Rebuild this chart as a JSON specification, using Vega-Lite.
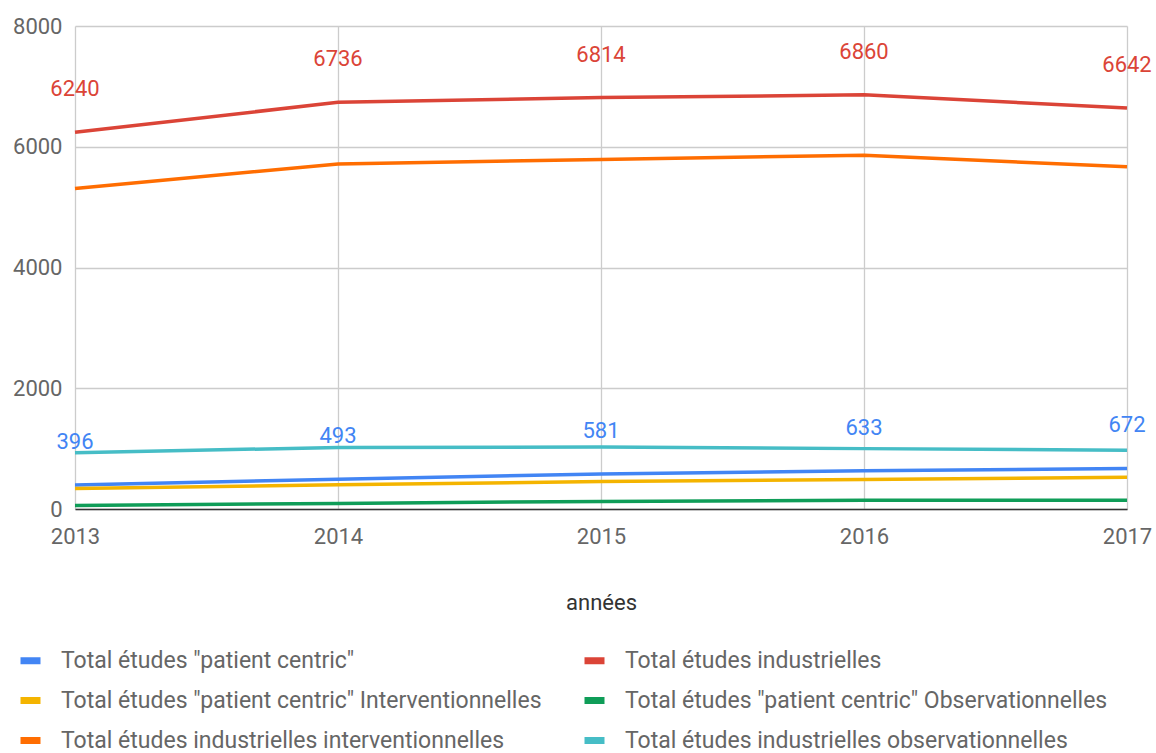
{
  "$schema": "https://vega.github.io/schema/vega-lite/v6.json",
  "width": 1052,
  "height": 483,
  "autosize": {"type": "none"},
  "padding": {"left": 75, "top": 26, "right": 29, "bottom": 244},
  "background": "white",
  "config": {
    "font": "Roboto",
    "view": {"stroke": null},
    "axis": {"labelFont": "Roboto", "titleFont": "Roboto", "gridColor": "#cccccc", "gridWidth": 1.3, "ticks": false, "labelColor": "#666666", "labelFontSize": 22}
  },
  "data": {
    "values": [
      {"year": "2013", "series": "Total études \"patient centric\"", "value": 396},
      {"year": "2014", "series": "Total études \"patient centric\"", "value": 493},
      {"year": "2015", "series": "Total études \"patient centric\"", "value": 581},
      {"year": "2016", "series": "Total études \"patient centric\"", "value": 633},
      {"year": "2017", "series": "Total études \"patient centric\"", "value": 672},
      {"year": "2013", "series": "Total études industrielles", "value": 6240},
      {"year": "2014", "series": "Total études industrielles", "value": 6736},
      {"year": "2015", "series": "Total études industrielles", "value": 6814},
      {"year": "2016", "series": "Total études industrielles", "value": 6860},
      {"year": "2017", "series": "Total études industrielles", "value": 6642},
      {"year": "2013", "series": "Total études \"patient centric\" Interventionnelles", "value": 340},
      {"year": "2014", "series": "Total études \"patient centric\" Interventionnelles", "value": 400},
      {"year": "2015", "series": "Total études \"patient centric\" Interventionnelles", "value": 455},
      {"year": "2016", "series": "Total études \"patient centric\" Interventionnelles", "value": 490},
      {"year": "2017", "series": "Total études \"patient centric\" Interventionnelles", "value": 525},
      {"year": "2013", "series": "Total études \"patient centric\" Observationnelles", "value": 56},
      {"year": "2014", "series": "Total études \"patient centric\" Observationnelles", "value": 93},
      {"year": "2015", "series": "Total études \"patient centric\" Observationnelles", "value": 126},
      {"year": "2016", "series": "Total études \"patient centric\" Observationnelles", "value": 143},
      {"year": "2017", "series": "Total études \"patient centric\" Observationnelles", "value": 147},
      {"year": "2013", "series": "Total études industrielles interventionnelles", "value": 5310},
      {"year": "2014", "series": "Total études industrielles interventionnelles", "value": 5716},
      {"year": "2015", "series": "Total études industrielles interventionnelles", "value": 5789},
      {"year": "2016", "series": "Total études industrielles interventionnelles", "value": 5860},
      {"year": "2017", "series": "Total études industrielles interventionnelles", "value": 5667},
      {"year": "2013", "series": "Total études industrielles observationnelles", "value": 930},
      {"year": "2014", "series": "Total études industrielles observationnelles", "value": 1020},
      {"year": "2015", "series": "Total études industrielles observationnelles", "value": 1025},
      {"year": "2016", "series": "Total études industrielles observationnelles", "value": 1000},
      {"year": "2017", "series": "Total études industrielles observationnelles", "value": 975}
    ]
  },
  "encoding": {
    "x": {
      "field": "year", "type": "ordinal",
      "scale": {"type": "point", "padding": 0},
      "axis": {"title": "années", "labelAngle": 0, "labelPadding": 17, "titlePadding": 45, "titleFontSize": 22, "titleFontWeight": "normal", "titleColor": "#333333", "domainColor": "#333333", "domainWidth": 1.5, "grid": true}
    },
    "y": {
      "field": "value", "type": "quantitative",
      "scale": {"domain": [0, 8000]},
      "axis": {"title": null, "values": [0, 2000, 4000, 6000, 8000], "format": "d", "domain": false, "labelPadding": 13, "grid": true}
    },
    "color": {
      "field": "series", "type": "nominal",
      "scale": {
        "domain": ["Total études \"patient centric\"", "Total études industrielles", "Total études \"patient centric\" Interventionnelles", "Total études \"patient centric\" Observationnelles", "Total études industrielles interventionnelles", "Total études industrielles observationnelles"],
        "range": ["#4285f4", "#db4437", "#f4b400", "#0f9d58", "#ff6d01", "#46bdc6"]
      },
      "legend": {
        "title": null, "orient": "none", "legendX": -58, "legendY": 621, "columns": 2, "direction": "horizontal",
        "labelFontSize": 23, "labelColor": "#666666", "labelFont": "Roboto", "labelLimit": 0,
        "symbolType": "stroke", "symbolStrokeWidth": 7, "symbolSize": 400,
        "labelOffset": 17, "rowPadding": 11, "columnPadding": 26, "gridAlign": "all"
      }
    }
  },
  "layer": [
    {"mark": {"type": "line", "strokeWidth": 3.5}, "encoding": {"detail": {"field": "series"}}},
    {
      "transform": [{"filter": {"field": "series", "oneOf": ["Total études \"patient centric\"", "Total études industrielles"]}}],
      "mark": {"type": "text", "dy": -43, "fontSize": 22, "font": "Roboto"},
      "encoding": {"text": {"field": "value", "type": "quantitative"}}
    }
  ]
}
